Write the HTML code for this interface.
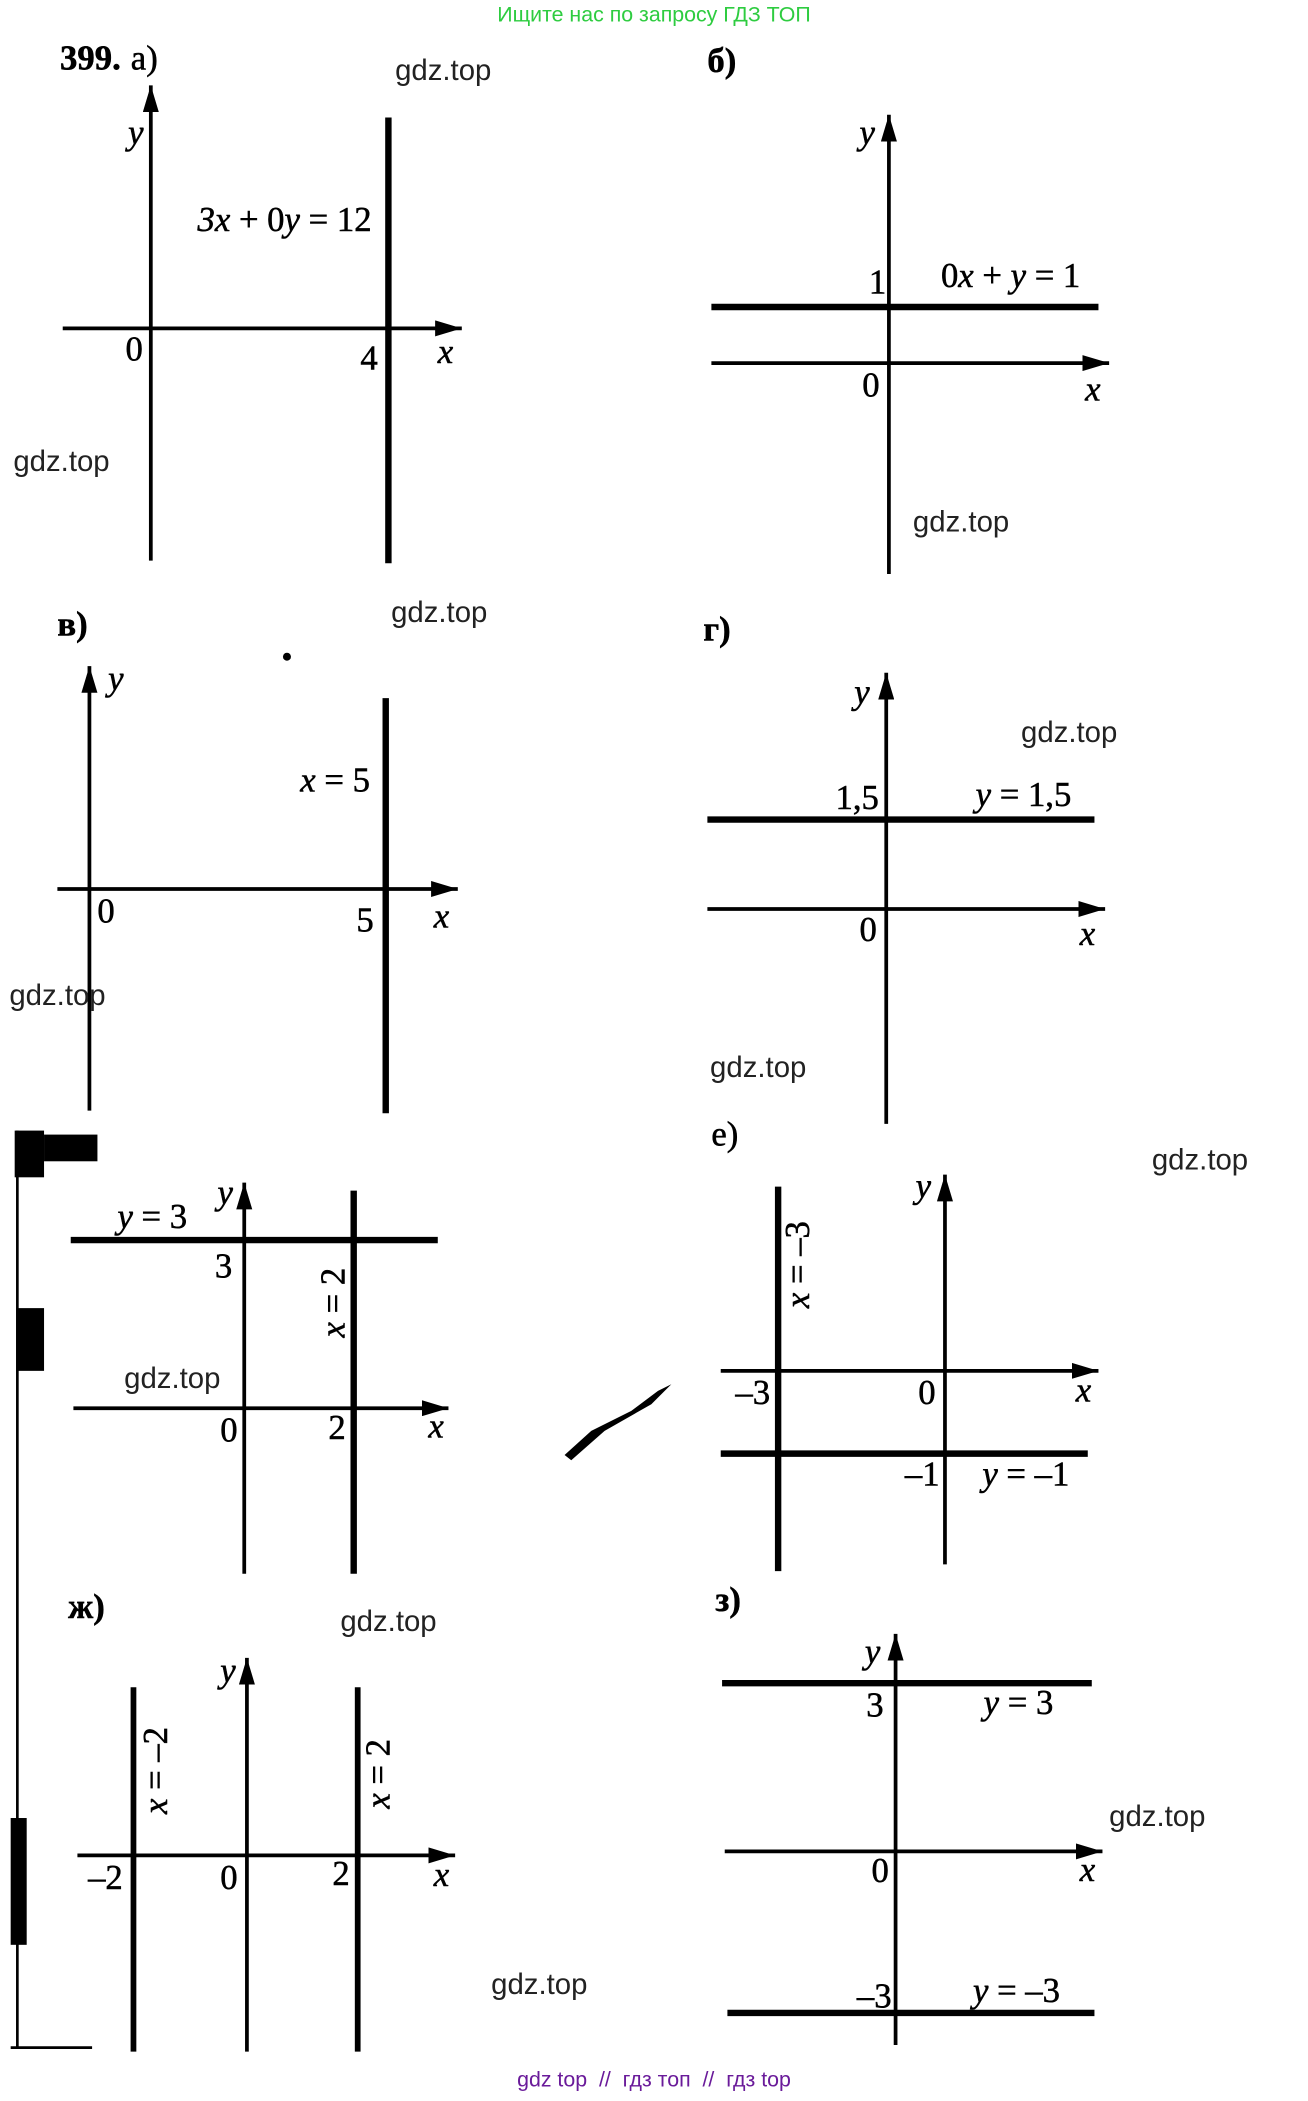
<!DOCTYPE html>
<html><head><meta charset="utf-8"><style>
html,body{margin:0;padding:0;background:#fff;}
svg{display:block;}
.s{font-family:"Liberation Serif",serif;font-size:26px;fill:#000;stroke:#000;stroke-width:0.4px;}
.i{font-style:italic;}
.g{font-family:"Liberation Sans",sans-serif;font-size:22px;fill:#222;}
</style></head><body>
<svg width="1308" height="2101" viewBox="0 0 980 1574" preserveAspectRatio="none" xmlns="http://www.w3.org/2000/svg">
<defs>
<marker id="a" viewBox="0 0 20 12" refX="20" refY="6" markerWidth="20" markerHeight="12" markerUnits="userSpaceOnUse" orient="auto"><path d="M0,0 L20,6 L0,12 Z" fill="#000"/></marker>
</defs>
<text x="490" y="16" text-anchor="middle" font-family="Liberation Sans,sans-serif" font-size="16" fill="#2ecc40">Ищите нас по запросу ГДЗ ТОП</text>
<text x="490" y="1563" text-anchor="middle" font-family="Liberation Sans,sans-serif" font-size="16" fill="#6a1b9a" xml:space="preserve">gdz top  //  гдз топ  //  гдз top</text>
<g transform="translate(3,2)">
<g stroke="#000" fill="none">
<line x1="110" y1="418" x2="110" y2="62" stroke-width="2.8" marker-end="url(#a)"/>
<line x1="44" y1="244" x2="343" y2="244" stroke-width="2.8" marker-end="url(#a)"/>
<line x1="288" y1="86" x2="288" y2="420" stroke-width="4.8"/>
<line x1="663" y1="428" x2="663" y2="84" stroke-width="2.8" marker-end="url(#a)"/>
<line x1="530" y1="228" x2="820" y2="228" stroke-width="4.8"/>
<line x1="530" y1="270" x2="828" y2="270" stroke-width="2.8" marker-end="url(#a)"/>
<line x1="64" y1="830" x2="64" y2="497" stroke-width="2.8" marker-end="url(#a)"/>
<line x1="40" y1="664" x2="340" y2="664" stroke-width="2.8" marker-end="url(#a)"/>
<line x1="286" y1="521" x2="286" y2="832" stroke-width="4.8"/>
<line x1="661" y1="840" x2="661" y2="502" stroke-width="2.8" marker-end="url(#a)"/>
<line x1="527" y1="612" x2="817" y2="612" stroke-width="4.8"/>
<line x1="527" y1="679" x2="825" y2="679" stroke-width="2.8" marker-end="url(#a)"/>
<line x1="50" y1="927" x2="325" y2="927" stroke-width="4.8"/>
<line x1="180" y1="1177" x2="180" y2="884" stroke-width="2.8" marker-end="url(#a)"/>
<line x1="262" y1="890" x2="262" y2="1177" stroke-width="4.8"/>
<line x1="52" y1="1053" x2="333" y2="1053" stroke-width="2.8" marker-end="url(#a)"/>
<line x1="705" y1="1170" x2="705" y2="878" stroke-width="2.8" marker-end="url(#a)"/>
<line x1="580" y1="887" x2="580" y2="1175" stroke-width="4.8"/>
<line x1="537" y1="1025" x2="820" y2="1025" stroke-width="2.8" marker-end="url(#a)"/>
<line x1="537" y1="1087" x2="812" y2="1087" stroke-width="4.8"/>
<line x1="182" y1="1535" x2="182" y2="1240" stroke-width="2.8" marker-end="url(#a)"/>
<line x1="97" y1="1262" x2="97" y2="1535" stroke-width="4.3"/>
<line x1="265" y1="1262" x2="265" y2="1535" stroke-width="4.3"/>
<line x1="55" y1="1388" x2="338" y2="1388" stroke-width="2.8" marker-end="url(#a)"/>
<line x1="668" y1="1530" x2="668" y2="1222" stroke-width="2.8" marker-end="url(#a)"/>
<line x1="538" y1="1259" x2="815" y2="1259" stroke-width="4.8"/>
<line x1="540" y1="1385" x2="823" y2="1385" stroke-width="2.8" marker-end="url(#a)"/>
<line x1="542" y1="1506" x2="817" y2="1506" stroke-width="4.8"/>
<line x1="10" y1="845" x2="10" y2="1532" stroke-width="2"/>
<line x1="5" y1="1532" x2="66" y2="1532" stroke-width="2"/>
</g>
<g fill="#000">
<rect x="8" y="845" width="22" height="35"/><rect x="30" y="848" width="40" height="20"/>
<rect x="10" y="978" width="20" height="47"/>
<rect x="5" y="1360" width="12" height="95"/>
<circle cx="212" cy="490" r="3"/>
<path d="M420,1088 L440,1070 L470,1055 L490,1040 L500,1035 L485,1050 L450,1070 L425,1092 Z"/>
</g>

<text class="s" x="42" y="50" font-weight="bold">399.</text><text class="s" x="95" y="50">а)</text>
<text class="s i" x="93" y="106">y</text>
<text class="s" x="145" y="171"><tspan class="i">3x</tspan> + 0<tspan class="i">y</tspan> = 12</text>
<text class="s" x="91" y="268">0</text><text class="s" x="267" y="275">4</text><text class="s i" x="325" y="270">x</text>
<text class="g" x="293" y="58">gdz.top</text><text class="g" x="7" y="351">gdz.top</text>

<text class="s" x="527" y="52" font-weight="bold">б)</text>
<text class="s i" x="641" y="106">y</text><text class="s" x="648" y="218">1</text>
<text class="s" x="702" y="213">0<tspan class="i">x</tspan> + <tspan class="i">y</tspan> = 1</text>
<text class="s" x="643" y="295">0</text><text class="s i" x="810" y="298">x</text>
<text class="g" x="681" y="396">gdz.top</text>

<text class="s" x="40" y="474" font-weight="bold">в)</text>
<text class="s i" x="78" y="515">y</text>
<text class="s" x="222" y="591"><tspan class="i">x</tspan> = 5</text>
<text class="s" x="70" y="689">0</text><text class="s" x="264" y="696">5</text><text class="s i" x="322" y="693">x</text>
<text class="g" x="290" y="464">gdz.top</text><text class="g" x="4" y="751">gdz.top</text>

<text class="s" x="524" y="478" font-weight="bold">г)</text>
<text class="s i" x="637" y="525">y</text><text class="s" x="623" y="604">1,5</text>
<text class="s" x="728" y="602"><tspan class="i">y</tspan> = 1,5</text>
<text class="s" x="641" y="703">0</text><text class="s i" x="806" y="706">x</text>
<text class="g" x="762" y="554">gdz.top</text><text class="g" x="529" y="805">gdz.top</text>

<text class="s" x="85" y="918"><tspan class="i">y</tspan> = 3</text>
<text class="s i" x="160" y="900">y</text><text class="s" x="158" y="955">3</text>
<text class="s" transform="translate(255,1000) rotate(-90)"><tspan class="i">x</tspan> = 2</text>
<text class="s" x="162" y="1078">0</text><text class="s" x="243" y="1076">2</text><text class="s i" x="318" y="1075">x</text>
<text class="g" x="90" y="1038">gdz.top</text>

<text class="s" x="530" y="856">е)</text>
<text class="s i" x="683" y="895">y</text>
<text class="s" transform="translate(603,978) rotate(-90)"><tspan class="i">x</tspan> = –3</text>
<text class="s" x="548" y="1050">–3</text><text class="s" x="685" y="1050">0</text><text class="s i" x="803" y="1048">x</text>
<text class="s" x="675" y="1111">–1</text><text class="s" x="733" y="1111"><tspan class="i">y</tspan> = –1</text>
<text class="g" x="860" y="874">gdz.top</text>

<text class="s" x="48" y="1210" font-weight="bold">ж)</text>
<text class="s i" x="162" y="1258">y</text>
<text class="s" transform="translate(122,1357) rotate(-90)"><tspan class="i">x</tspan> = –2</text>
<text class="s" transform="translate(289,1353) rotate(-90)"><tspan class="i">x</tspan> = 2</text>
<text class="s" x="63" y="1413">–2</text><text class="s" x="162" y="1413">0</text><text class="s" x="246" y="1410">2</text><text class="s i" x="322" y="1411">x</text>
<text class="g" x="252" y="1220">gdz.top</text><text class="g" x="365" y="1492">gdz.top</text>

<text class="s" x="533" y="1205" font-weight="bold">з)</text>
<text class="s i" x="645" y="1244">y</text><text class="s" x="646" y="1284">3</text>
<text class="s" x="734" y="1282"><tspan class="i">y</tspan> = 3</text>
<text class="s" x="650" y="1408">0</text><text class="s i" x="806" y="1407">x</text>
<text class="s" x="639" y="1502">–3</text><text class="s" x="726" y="1498"><tspan class="i">y</tspan> = –3</text>
<text class="g" x="828" y="1366">gdz.top</text>
</g>
</svg>
</body></html>
